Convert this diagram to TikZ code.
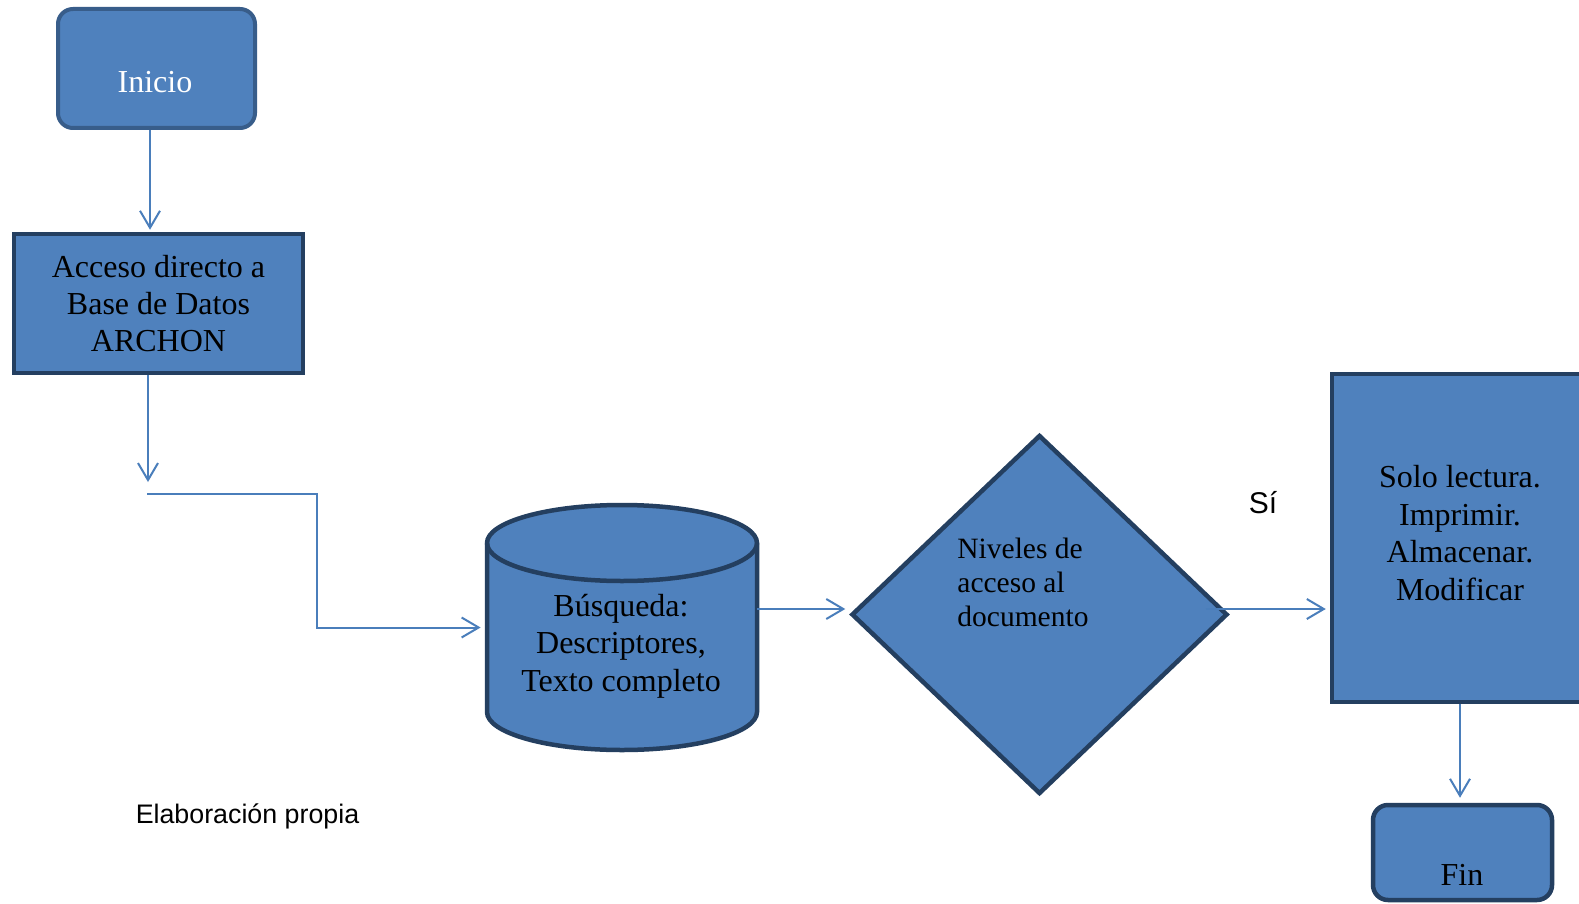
\documentclass[tikz,border=0pt]{standalone}
\usepackage{fontspec}
\setmainfont{Liberation Serif}
\newfontfamily\sansfam{Liberation Sans}
\usetikzlibrary{shapes.geometric,arrows.meta}
\definecolor{boxfill}{HTML}{4F81BD}
\definecolor{darkedge}{HTML}{243F60}
\definecolor{softedge}{HTML}{385D8A}
\definecolor{linkblue}{HTML}{4A7EBB}
\tikzset{
  flowbox/.style={draw=darkedge, line width=2.25pt, fill=boxfill, inner sep=0pt},
  termbox/.style={flowbox, rounded corners=7.5pt},
  conn/.style={draw=linkblue, line width=1pt, -{Straight Barb[length=8.5pt,width=10pt]}},
  serifbig/.style={font=\fontsize{16pt}{18.7pt}\selectfont, align=center, inner sep=0pt},
  serifmid/.style={font=\fontsize{14.75pt}{17pt}\selectfont, align=left, inner sep=0pt},
  sanstext/.style={font=\sansfam\fontsize{#1}{1.2\dimexpr#1\relax}\selectfont, inner sep=0pt},
}
\begin{document}
\begin{tikzpicture}[x=0.5pt,y=-0.5pt]
\clip (0,0) rectangle (1579,904);
\fill[white] (0,0) rectangle (1579,904);

% start terminal
\node[termbox, draw=softedge, line width=2pt, minimum width=98.5pt, minimum height=59.5pt] (inicio) at (156.5,68.5) {};
\node[serifbig, text=white] (iniciotext) at (155,82) {Inicio};

% database access
\node[flowbox, serifbig, minimum width=144.5pt, minimum height=69.5pt] (acceso) at (158.5,303.5) {Acceso directo a\\Base de Datos\\ARCHON};

% search store (cylinder)
\filldraw[draw=darkedge, fill=boxfill, line width=2.25pt]
  (487,543) -- (487,712)
  arc[start angle=180, end angle=360, x radius=67.5pt, y radius=19pt]
  -- (757,543)
  arc[start angle=0, end angle=180, x radius=67.5pt, y radius=19pt] -- cycle;
\draw[draw=darkedge, line width=2.25pt]
  (757,543) arc[start angle=0, end angle=-180, x radius=67.5pt, y radius=19pt];
\node[minimum width=135pt, minimum height=122.5pt, inner sep=0pt] (busq) at (622,627.5) {};
\node[serifbig] (busqtext) at (621,646) {Búsqueda:\\Descriptores,\\Texto completo};

% decision
\node[diamond, draw=darkedge, line width=2.25pt, fill=boxfill, inner sep=0pt,
      minimum width=188pt, minimum height=179.5pt] (dia) at (1039.5,614.5) {};
\node[serifmid, anchor=west] (diatext) at (957,582) {Niveles de\\acceso al\\documento};

% permitted actions
\node[flowbox, minimum width=128pt, minimum height=164pt] (solo) at (1460,538) {};
\node[serifbig] (solotext) at (1460,533) {Solo lectura.\\Imprimir.\\Almacenar.\\Modificar};

% end terminal
\node[termbox, minimum width=89.5pt, minimum height=47.5pt] (fin) at (1462.5,852.5) {};
\node[serifbig] (fintext) at (1462,875) {Fin};

% free texts
\node[sanstext=15pt] (si) at (1263,503) {Sí};
\node[sanstext=13.4pt] (fuente) at (247.5,816) {Elaboración propia};

% connectors
\draw[conn, shorten >=1pt] ([xshift=-3.25pt]inicio.south) -- ([xshift=-4.25pt]acceso.north);
\coordinate (gap) at (148,482);
\draw[conn] ([xshift=-5.25pt]acceso.south) -- (gap);
\coordinate (elbow) at (147,494);
\coordinate (turn) at (317,494);
\draw[conn, shorten >=3pt] (elbow) -- (turn) |- (busq.west);
\coordinate (bout) at ([yshift=9.25pt]busq.east);
\draw[conn, shorten >=2pt] (bout) -- (bout -| dia.west);
\coordinate (dout) at ([xshift=-12pt,yshift=2.75pt]dia.east);
\draw[conn, shorten >=2pt] (dout) -- (dout -| solo.west);
\draw[conn, shorten >=2.5pt] (solo.south) -- (solo.south |- fin.north);
\end{tikzpicture}
\end{document}
